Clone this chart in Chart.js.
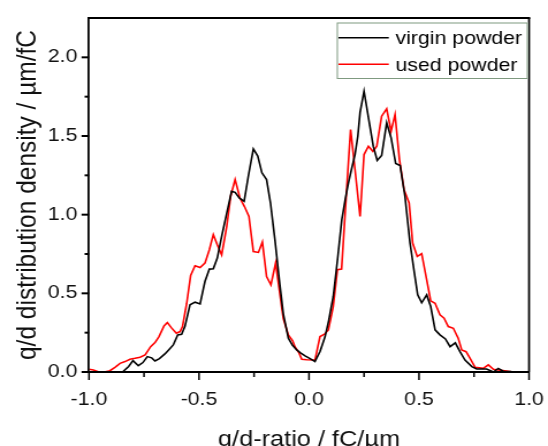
<!DOCTYPE html>
<html><head><meta charset="utf-8">
<script src="https://cdn.jsdelivr.net/npm/chart.js@4.4.1/dist/chart.umd.min.js"></script>
<style>
html,body{margin:0;padding:0;background:#fff;overflow:hidden;width:548px;height:446px}
#wrap{position:absolute;left:0;top:0;width:476px;height:446px;transform-origin:0 0;transform:scaleX(1.1513)}
canvas{display:block}
</style></head><body>
<div id="wrap"><canvas id="c" width="476" height="446"></canvas></div>
<script>
const seriesLabels = ['virgin powder', 'used powder'];
const seriesColors = ['#000000', '#ff0000'];

const virginX = [-1.0,-0.95,-0.9,-0.86,-0.845,-0.82,-0.8,-0.776,-0.755,-0.735,-0.715,-0.7,-0.68,-0.655,-0.635,-0.617,-0.597,-0.579,-0.564,-0.541,-0.518,-0.495,-0.473,-0.453,-0.435,-0.417,-0.397,-0.374,-0.352,-0.336,-0.317,-0.295,-0.276,-0.253,-0.233,-0.214,-0.193,-0.175,-0.155,-0.135,-0.117,-0.094,-0.075,-0.056,-0.037,-0.018,0.005,0.027,0.05,0.073,0.09,0.11,0.13,0.149,0.165,0.179,0.195,0.209,0.222,0.232,0.25,0.277,0.292,0.31,0.33,0.353,0.373,0.394,0.414,0.436,0.459,0.479,0.494,0.512,0.535,0.553,0.573,0.595,0.62,0.641,0.665,0.686,0.709,0.74,0.762,0.785,0.807,0.838,0.86,0.883,0.92,0.96,1.0];
const virginY = [0,0,0,0.002,0.003,0.035,0.072,0.04,0.06,0.098,0.09,0.07,0.085,0.115,0.145,0.172,0.235,0.24,0.29,0.427,0.444,0.433,0.575,0.654,0.656,0.724,0.862,1.01,1.148,1.142,1.106,1.085,1.244,1.418,1.372,1.266,1.223,1.074,0.84,0.586,0.37,0.215,0.17,0.14,0.12,0.102,0.085,0.066,0.13,0.225,0.33,0.48,0.72,0.968,1.1,1.2,1.3,1.382,1.5,1.65,1.785,1.56,1.435,1.344,1.376,1.584,1.488,1.325,1.312,1.117,0.82,0.629,0.49,0.44,0.49,0.416,0.268,0.236,0.21,0.161,0.185,0.129,0.076,0.034,0.019,0.019,0.019,0.0,0.023,0.005,0.003,0.002,0.0];

const usedX = [-1.0,-0.98,-0.958,-0.93,-0.905,-0.882,-0.859,-0.836,-0.814,-0.791,-0.768,-0.745,-0.72,-0.7,-0.682,-0.659,-0.644,-0.626,-0.603,-0.586,-0.575,-0.556,-0.538,-0.518,-0.495,-0.473,-0.453,-0.435,-0.417,-0.397,-0.374,-0.356,-0.336,-0.314,-0.294,-0.273,-0.253,-0.23,-0.212,-0.193,-0.173,-0.152,-0.135,-0.117,-0.094,-0.075,-0.064,-0.045,-0.033,-0.01,0.027,0.05,0.07,0.088,0.11,0.129,0.148,0.171,0.189,0.209,0.232,0.25,0.27,0.29,0.308,0.33,0.353,0.373,0.391,0.411,0.432,0.455,0.471,0.492,0.512,0.535,0.553,0.573,0.595,0.614,0.633,0.656,0.678,0.694,0.714,0.732,0.755,0.792,0.815,0.838,0.86,0.89,0.92,0.96,1.0];
const usedY = [0.017,0.013,0.002,0.0,0.008,0.03,0.055,0.066,0.081,0.087,0.094,0.108,0.161,0.187,0.225,0.293,0.314,0.282,0.246,0.257,0.289,0.437,0.613,0.675,0.664,0.692,0.777,0.873,0.809,0.745,0.926,1.117,1.223,1.106,1.053,0.989,0.766,0.76,0.826,0.607,0.554,0.692,0.522,0.34,0.236,0.2,0.161,0.12,0.081,0.078,0.076,0.225,0.24,0.267,0.416,0.65,0.654,1.159,1.541,1.287,0.989,1.382,1.435,1.403,1.435,1.626,1.673,1.531,1.637,1.35,1.159,1.074,0.82,0.735,0.752,0.586,0.452,0.437,0.363,0.342,0.289,0.278,0.215,0.14,0.129,0.087,0.03,0.023,0.045,0.017,0.013,0.008,0.002,0.0,0.0];

const xRange = [-1.0, 1.0];
const yRange = [0.0, 2.25];
const tickStep = 0.25;
const labelStep = 0.5;
const xTitle = 'q/d-ratio / fC/\u00b5m';
const yTitle = 'q/d distribution density / \u00b5m/fC';

const FONT = '"Liberation Sans", Arial, Helvetica, sans-serif';
function isMajor(v){ const r = v / labelStep; return Math.abs(r - Math.round(r)) < 1e-6; }
function pts(xs, ys){ return xs.map((x, i) => ({x: x, y: ys[i]})); }

const decoPlugin = {
  id: 'deco',
  afterDraw(chart){
    const {ctx, chartArea: a, scales: {x, y}} = chart;
    ctx.save();
    ctx.strokeStyle = '#000';
    // frame top / right
    ctx.lineWidth = 2;
    ctx.beginPath(); ctx.moveTo(a.left - 1, a.top); ctx.lineTo(a.right + 1, a.top); ctx.stroke();
    ctx.lineWidth = 1.75;
    ctx.beginPath(); ctx.moveTo(a.right, a.top); ctx.lineTo(a.right, a.bottom); ctx.stroke();
    // x ticks
    ctx.lineWidth = 1.5;
    x.ticks.forEach(t => {
      const px = x.getPixelForValue(t.value);
      ctx.beginPath(); ctx.moveTo(px, a.bottom); ctx.lineTo(px, a.bottom + (isMajor(t.value) ? 8 : 5)); ctx.stroke();
    });
    // y ticks
    ctx.lineWidth = 2;
    y.ticks.forEach(t => {
      if (t.value >= yRange[1] - 1e-9) return;
      const py = y.getPixelForValue(t.value);
      ctx.beginPath(); ctx.moveTo(a.left, py); ctx.lineTo(a.left - (isMajor(t.value) ? 6.5 : 3.8), py); ctx.stroke();
    });
    // legend
    const bx0 = a.right - 167, bx1 = a.right - 1, by0 = a.top + 4.5, by1 = a.top + 61;
    ctx.fillStyle = '#fff';
    ctx.fillRect(bx0, by0, bx1 - bx0, by1 - by0);
    ctx.strokeStyle = '#7f9a80';
    ctx.lineWidth = 1;
    ctx.strokeRect(bx0 + 0.5, by0 + 0.5, bx1 - bx0 - 1, by1 - by0 - 1);
    ctx.font = '18.5px ' + FONT;
    ctx.textAlign = 'left';
    ctx.textBaseline = 'alphabetic';
    chart.data.datasets.forEach((ds, i) => {
      const ly = a.top + 19.7 + i * 26.6;
      ctx.strokeStyle = ds.borderColor;
      ctx.lineWidth = 1.6;
      ctx.beginPath(); ctx.moveTo(a.right - 165.5, ly); ctx.lineTo(a.right - 121.8, ly); ctx.stroke();
      ctx.fillStyle = '#000';
      ctx.fillText(ds.label, a.right - 116, a.top + 26 + i * 26.6);
    });
    ctx.restore();
  }
};

new Chart(document.getElementById('c'), {
  type: 'line',
  data: {
    datasets: [
      {label: seriesLabels[0], data: pts(virginX, virginY), borderColor: seriesColors[0], borderWidth: 1.6, pointRadius: 0, tension: 0, fill: false},
      {label: seriesLabels[1], data: pts(usedX, usedY), borderColor: seriesColors[1], borderWidth: 1.6, pointRadius: 0, tension: 0, fill: false}
    ]
  },
  options: {
    responsive: false,
    animation: false,
    devicePixelRatio: 1,
    layout: {padding: {top: 18, right: 16.5, bottom: 0, left: 0}},
    plugins: {legend: {display: false}, tooltip: {enabled: false}},
    scales: {
      x: {
        type: 'linear', min: xRange[0], max: xRange[1],
        grid: {display: false, drawTicks: false},
        border: {display: true, color: '#000', width: 2, z: 1},
        ticks: {stepSize: tickStep, padding: 17, color: '#111', font: {family: FONT, size: 18.5},
          maxRotation: 0, autoSkip: false,
          callback: v => isMajor(v) ? v.toFixed(1) : ''},
        title: {display: true, text: xTitle, color: '#111', font: {family: FONT, size: 22, lineHeight: 0.8}, padding: {top: 0, bottom: -3}},
        afterFit: s => { s.height = 74; s.paddingLeft = 0; s.paddingRight = 0; }
      },
      y: {
        type: 'linear', min: yRange[0], max: yRange[1],
        grid: {display: false, drawTicks: false},
        border: {display: true, color: '#000', width: 1.75, z: 1},
        ticks: {stepSize: tickStep, padding: 10.1, color: '#111', font: {family: FONT, size: 18.5},
          autoSkip: false,
          callback: v => isMajor(v) ? v.toFixed(1) : ''},
        title: {display: true, text: yTitle, color: '#111', font: {family: FONT, size: 24.5}, padding: {top: 9.5, bottom: 0}},
        afterFit: s => { s.width = 77.3; s.paddingTop = 0; s.paddingBottom = 0; }
      }
    }
  },
  plugins: [decoPlugin]
});
</script>
</body></html>
